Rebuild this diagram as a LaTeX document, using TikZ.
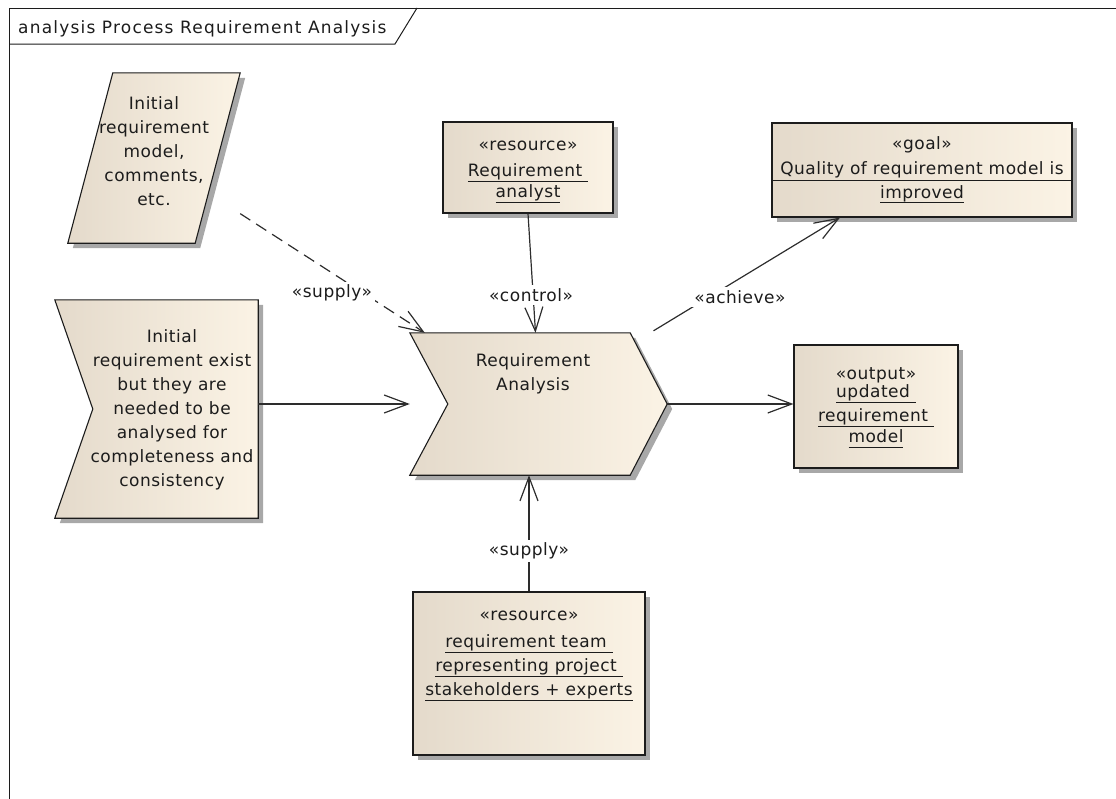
\documentclass[tikz,border=0pt]{standalone}
\usepackage{fontspec}
\setmainfont[LetterSpace=3]{DejaVu Sans}
\usetikzlibrary{arrows.meta,calc,shadows}

\definecolor{boxleft}{RGB}{228,218,203}
\definecolor{boxright}{RGB}{251,243,229}
\definecolor{shadowgray}{RGB}{168,168,168}
\definecolor{ink}{RGB}{28,28,28}
\definecolor{wire}{RGB}{45,45,45}

\newcommand\dfont{\fontsize{17}{24}\selectfont}
% underline with a fixed offset below the baseline
\newsavebox\ulbox
\newcommand\ulined[1]{\sbox\ulbox{#1}\rlap{\rule[-5pt]{\wd\ulbox}{1pt}}\usebox\ulbox}

\tikzset{
  elemfill/.style={left color=boxleft, right color=boxright, draw=ink, line width=1.1pt,
    drop shadow={shadow xshift=5pt, shadow yshift=-5pt, fill=shadowgray, opacity=1}},
  elembox/.style={elemfill, rectangle, inner sep=0pt, align=center, font=\dfont, text=ink},
  bbox/.style={rectangle, draw=none, inner sep=0pt, align=center, font=\dfont, text=ink},
  caption/.style={font=\dfont, text=ink, inner sep=2pt, align=center},
  wlabel/.style={caption, fill=white, inner sep=3pt},
  flow/.style={draw=wire, line width=1.2pt, -{Straight Barb[length=24pt,width=18pt,line width=1.2pt]}},
}

\begin{document}
\begin{tikzpicture}[x=1pt,y=-1pt]
\useasboundingbox (0,0) rectangle (1116,798);

% diagram frame and its name tab
\draw[ink, line width=1pt] (9,800) -- (9,8) -- (1118,8);
\draw[ink, line width=1pt] (9,44) -- (395,44) -- (417,8);
\node[caption, anchor=base west, inner sep=0pt, font=\dfont\addfontfeature{LetterSpace=7}] (frametitle) at (18,33)
  {analysis Process Requirement Analysis};

% input object (parallelogram)
\node[bbox, minimum width=172pt, minimum height=170pt] (par) at (154,158) {};
\path[elemfill] ($(par.north west)+(45,0)$) -- (par.north east)
  -- ($(par.south east)+(-45,0)$) -- (par.south west) -- cycle;
\node[caption, inner sep=0pt] (partxt) at (154,151)
  {Initial\\requirement\\model,\\comments,\\etc.};

% trigger event (notched box)
\node[bbox, minimum width=203pt, minimum height=218pt] (need) at (156.5,409) {};
\path[elemfill] (need.north west) -- (need.north east) -- (need.south east)
  -- (need.south west) -- ($(need.west)+(38,0)$) -- cycle;
\node[caption, inner sep=0pt] (needtxt) at (172,410)
  {Initial\\requirement exist\\but they are\\needed to be\\analysed for\\completeness and\\consistency};

% the process (chevron)
\node[bbox, minimum width=257pt, minimum height=142pt] (ra) at (538.5,404) {};
\path[elemfill] (ra.north west) -- ($(ra.north east)+(-37,0)$) -- (ra.east)
  -- ($(ra.south east)+(-37,0)$) -- (ra.south west) -- ($(ra.west)+(38,0)$) -- cycle;
\node[caption, inner sep=0pt] (ratxt) at (533,374) {Requirement\\Analysis};

% resources, goal and output
\node[elembox, minimum width=170pt, minimum height=91pt] (analyst) at (528,167.5)
  {\mbox{}\\[-6pt]«resource»\\[2pt]\ulined{Requirement\ }\\[-3pt]\ulined{analyst}};
\node[elembox, minimum width=300pt, minimum height=94pt] (goal) at (922,170)
  {«goal»\\[1pt]Quality of requirement model is\\\ulined{improved}};
\draw[ink, line width=1pt] ($(goal.west)+(0,10)$) -- ($(goal.east)+(0,10)$);
\node[elembox, minimum width=164pt, minimum height=123pt] (out) at (876,406.5)
  {\mbox{}\\[-10pt]«output»\\[-6pt]\ulined{updated\ }\\\ulined{requirement\ }\\[-3pt]\ulined{model}};
\node[elembox, minimum width=232pt, minimum height=163pt] (team) at (529,673.5)
  {«resource»\\[3pt]\ulined{requirement team\ }\\\ulined{representing project\ }\\\ulined{stakeholders + experts}\\[16pt]\mbox{}};

% connectors
\draw[flow, dash pattern=on 12pt off 7pt] (par) -- ($(ra.north west)+(15,0)$);
\node[wlabel] (lsupply) at (332,293) {«supply»};

\draw[flow] (analyst.south) -- ($(ra.north)+(-3,0)$);
\node[wlabel] (lcontrol) at (531,295) {«control»};

\draw[flow] ($(ra.north)+(115,-2)$) -- ($(goal.south)+(-82,0)$);
\node[wlabel] (lachieve) at (740,297) {«achieve»};

\draw[flow] (need.east |- ra.west) -- (ra.west);
\draw[flow] (ra.east) -- (ra.east -| out.west);

\draw[flow] (team.north) -- (team.north |- ra.south);
\node[wlabel] (lsupply2) at (529,551) {«supply»};
\end{tikzpicture}
\end{document}
